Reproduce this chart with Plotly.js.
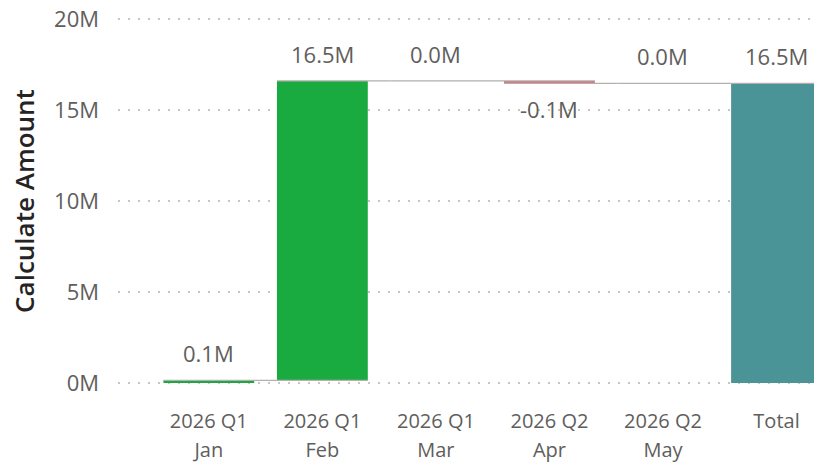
<!DOCTYPE html>
<html>
<head>
<meta charset="utf-8">
<script src="https://cdn.plot.ly/plotly-3.0.1.min.js"></script>
<style>html,body{margin:0;padding:0;background:#fff;overflow:hidden}#chart{width:814px;height:468px}</style>
</head>
<body>
<div id="chart"></div>
<script>
// Data (in millions)
const quarters = ["2026 Q1", "2026 Q1", "2026 Q1", "2026 Q2", "2026 Q2", "Total"];
const months = ["Jan", "Feb", "Mar", "Apr", "May", ""];
const measures = ["relative", "relative", "relative", "relative", "relative", "total"];
const amounts = [0.14, 16.46, 0, -0.14, 0, 0];
const yTickVals = [0, 5, 10, 15, 20];
const yTickText = ["0M", "5M", "10M", "15M", "20M"];

const xs = quarters.map((q, i) => i);
let run = 0;
const labelInfo = amounts.map((v, i) => {
  if (measures[i] === "total") return {text: run.toFixed(1) + "M", top: run, neg: false, bottom: 0};
  const start = run;
  run += v;
  const txt = (Math.abs(v) < 0.05 ? "0.0" : v.toFixed(1)) + "M";
  return {text: txt, top: Math.max(start, run), bottom: Math.min(start, run), neg: v < 0};
});

const font = "Open Sans, sans-serif";
const annotations = labelInfo.map((L, i) => ({
  x: i, xref: "x",
  y: L.neg ? L.bottom : L.top, yref: "y",
  text: L.text, showarrow: false,
  yanchor: L.neg ? "top" : "bottom",
  yshift: L.neg ? -9 : 10,
  font: {family: font, size: 22, color: "#605e5c"}
}));

const trace = {
  type: "waterfall",
  x: xs,
  y: amounts,
  measure: measures,
  textinfo: "none",
  increasing: {marker: {color: "#1aab40"}},
  decreasing: {marker: {color: "#dc6b78"}},
  totals: {marker: {color: "#4a9396"}},
  connector: {mode: "spanning", line: {color: "#b3b0ad", width: 1.2}},
  hoverinfo: "none"
};
const monthAxisHolder = {
  type: "scatter", mode: "markers", x: xs, y: xs.map(() => 0),
  xaxis: "x2", yaxis: "y",
  marker: {size: 0, opacity: 0}, hoverinfo: "none", showlegend: false
};

const layout = {
  width: 814, height: 468,
  margin: {l: 118, r: 0, t: 10, b: 76},
  paper_bgcolor: "#fff", plot_bgcolor: "#fff",
  showlegend: false,
  bargap: 0.22,
  font: {family: font, color: "#605e5c"},
  annotations: annotations,
  xaxis: {
    range: [-0.80, 5.33],
    tickvals: xs, ticktext: quarters,
    showgrid: false, zeroline: false, showline: false, ticks: "",
    tickfont: {size: 20, color: "#605e5c"},
    ticklabelstandoff: 15,
    fixedrange: true
  },
  xaxis2: {
    overlaying: "x", anchor: "y", side: "bottom",
    range: [-0.80, 5.33],
    tickvals: xs, ticktext: months,
    showgrid: false, zeroline: false, showline: false, ticks: "",
    tickfont: {size: 20, color: "#605e5c"},
    ticklabelstandoff: 44,
    fixedrange: true
  },
  yaxis: {
    range: [-0.495, 20.495],
    tickvals: yTickVals, ticktext: yTickText,
    showgrid: true, gridcolor: "#c8c6c4", griddash: "2px,8px", gridwidth: 1.5,
    zeroline: false, showline: false, ticks: "",
    tickfont: {size: 22, color: "#605e5c"},
    ticklabelstandoff: 18,
    title: {text: "Calculate Amount", font: {size: 26, color: "#252423", weight: 600}, standoff: 11},
    fixedrange: true
  }
};

Plotly.newPlot("chart", [trace, monthAxisHolder], layout, {staticPlot: true, displayModeBar: false});
</script>
</body>
</html>
